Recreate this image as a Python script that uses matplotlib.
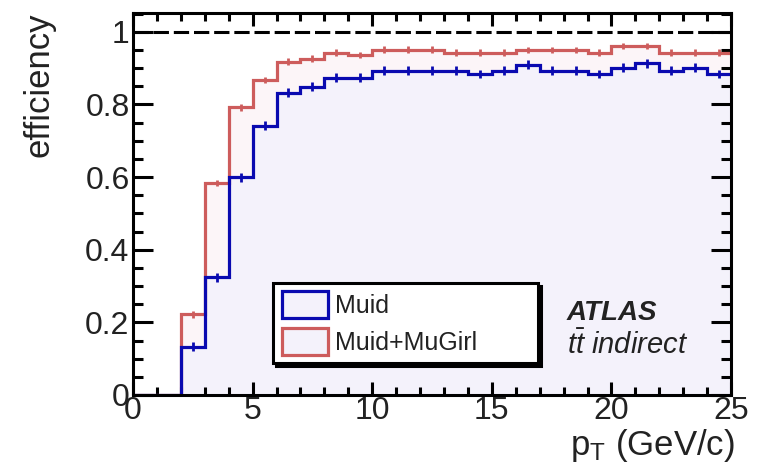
import numpy as np
import matplotlib
matplotlib.use("Agg")
import matplotlib.pyplot as plt
from matplotlib.patches import Patch
from matplotlib.ticker import FixedLocator, FixedFormatter, MultipleLocator

plt.rcParams['font.family'] = ['Liberation Sans', 'DejaVu Sans']
plt.rcParams['mathtext.fontset'] = 'custom'
plt.rcParams['mathtext.rm'] = 'Liberation Sans'
plt.rcParams['mathtext.it'] = 'Liberation Sans:italic'
plt.rcParams['mathtext.bf'] = 'Liberation Sans:bold'

# ---- data ----
bin_edges = list(range(0, 26))
muid = [0, 0, 0.133, 0.324, 0.599, 0.742, 0.833, 0.849, 0.874, 0.874,
        0.893, 0.893, 0.893, 0.893, 0.884, 0.893, 0.910, 0.893, 0.893, 0.884,
        0.901, 0.913, 0.893, 0.901, 0.884]
muid_err = [0, 0, 0.012, 0.012, 0.012, 0.012, 0.012, 0.012, 0.012, 0.012,
            0.012, 0.012, 0.012, 0.012, 0.012, 0.012, 0.012, 0.012, 0.012, 0.012,
            0.012, 0.012, 0.012, 0.012, 0.012]
muid_mugirl = [0, 0, 0.222, 0.584, 0.792, 0.867, 0.918, 0.926, 0.943, 0.936,
               0.951, 0.951, 0.951, 0.943, 0.943, 0.943, 0.950, 0.950, 0.950, 0.943,
               0.961, 0.961, 0.943, 0.943, 0.943]
muid_mugirl_err = [0, 0, 0.009, 0.009, 0.009, 0.009, 0.009, 0.009, 0.009, 0.009,
                   0.009, 0.009, 0.009, 0.009, 0.009, 0.009, 0.009, 0.009, 0.009, 0.009,
                   0.009, 0.009, 0.009, 0.009, 0.009]
series_labels = ["Muid", "Muid+MuGirl"]
x_ticks = [0, 5, 10, 15, 20, 25]
x_tick_labels = ["0", "5", "10", "15", "20", "25"]
y_ticks = [0, 0.2, 0.4, 0.6, 0.8, 1.0]
y_tick_labels = ["0", "0.2", "0.4", "0.6", "0.8", "1"]

# ---- style ----
blue = '#0a0ab0'
red = '#cd5c5c'
blue_fill = '#f4f2fb'
red_fill = '#fcf5f8'
lw = 2.3

fig = plt.figure(figsize=(7.57, 4.76), dpi=100)
ax = fig.add_axes([0.1757, 0.1702, 0.79, 0.8025])

edges = np.array(bin_edges, dtype=float)
centers = 0.5 * (edges[:-1] + edges[1:])
mu = np.array(muid)
mm = np.array(muid_mugirl)

ax.stairs(mm, edges, fill=True, color=red_fill, zorder=1)
ax.stairs(mu, edges, fill=True, color=blue_fill, zorder=1.1)

ax.axhline(1.0, color='black', lw=2.2, ls=(0, (5, 1.6)), zorder=2)

ax.stairs(mm, edges, baseline=None, color=red, lw=lw, zorder=3)
ax.stairs(mu, edges, baseline=None, color=blue, lw=lw, zorder=4)
m = np.array(muid_mugirl_err) > 0
ax.errorbar(centers[m], mm[m], yerr=np.array(muid_mugirl_err)[m], fmt='none',
            ecolor=red, elinewidth=2.0, capsize=0, zorder=3)
m2 = np.array(muid_err) > 0
ax.errorbar(centers[m2], mu[m2], yerr=np.array(muid_err)[m2], fmt='none',
            ecolor=blue, elinewidth=2.0, capsize=0, zorder=4)

ax.set_xlim(0, 25)
ax.set_ylim(0, 1.052)

for s in ax.spines.values():
    s.set_linewidth(2.2)
    s.set_zorder(6)

ax.xaxis.set_major_locator(FixedLocator(x_ticks))
ax.xaxis.set_major_formatter(FixedFormatter(x_tick_labels))
ax.xaxis.set_minor_locator(MultipleLocator(1))
ax.yaxis.set_major_locator(FixedLocator(y_ticks))
ax.yaxis.set_major_formatter(FixedFormatter(y_tick_labels))
ax.yaxis.set_minor_locator(MultipleLocator(0.05))

ax.tick_params(axis='both', which='both', direction='in', top=True, right=True,
               width=2.2, color='black', labelcolor='#222222')
ax.tick_params(axis='x', which='major', length=9.5, labelsize=23, pad=1)
ax.tick_params(axis='x', which='minor', length=5.5)
ax.tick_params(axis='y', which='major', length=14.5, labelsize=23, pad=2.5)
ax.tick_params(axis='y', which='minor', length=7.5)

ax.set_ylabel("efficiency", fontsize=25, color='#222222', loc='top')
ax.yaxis.set_label_coords(-0.13, 1.0)
ax.set_xlabel(r"p$_\mathrm{T}$ (GeV/c)", fontsize=25, color='#222222', loc='right')
ax.xaxis.set_label_coords(1.006, -0.085)

handles = [Patch(facecolor=blue_fill, edgecolor=blue, lw=lw),
           Patch(facecolor=blue_fill, edgecolor=red, lw=lw)]
leg = ax.legend(handles, series_labels, loc='lower left',
                bbox_to_anchor=(0.2346, 0.083, 0.4434, 0.225), mode='expand',
                borderaxespad=0, fontsize=18, handlelength=1.85, handleheight=1.25,
                labelspacing=0.42, handletextpad=0.3, borderpad=0.33,
                fancybox=False, framealpha=1, edgecolor='black',
                shadow={'color': 'black', 'alpha': 1})
leg.get_frame().set_linewidth(2.2)
leg.set_zorder(7)
for t in leg.get_texts():
    t.set_color('#222222')

ax.text(0.725, 0.196, "ATLAS", transform=ax.transAxes, fontsize=20,
        fontweight='bold', fontstyle='italic', color='#222222', va='baseline', zorder=8)
ax.text(0.725, 0.107, r"$t\bar{t}$ indirect", transform=ax.transAxes, fontsize=21,
        fontstyle='italic', color='#222222', va='baseline', zorder=8)

fig.savefig("out.png", dpi=100)
